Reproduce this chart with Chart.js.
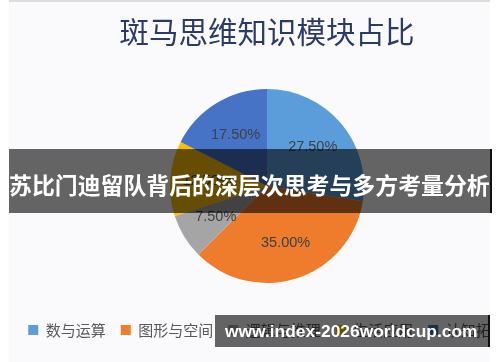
<!DOCTYPE html>
<html lang="zh">
<head>
<meta charset="utf-8">
<title>斑马思维知识模块占比</title>
<script src="https://cdn.jsdelivr.net/npm/chart.js@4"></script>
<style>
    html, body { margin: 0; padding: 0; background: #fff; }
    body { width: 500px; height: 362px; position: relative; overflow: hidden; }
    .painel {
        position: absolute; left: 9px; top: 0; width: 481px; height: 362px;
        background: #fafafd; border-top: 2px solid #dcdcdc; box-sizing: border-box;
        overflow: hidden;
    }
    .painel .grafico { position: absolute; left: 0; top: -2px; width: 516px; height: 362px; }
    .faixa {
        position: absolute; left: 9px; top: 149px; width: 481px; height: 64px;
        background: rgba(0, 0, 0, 0.6); border-right: 2px solid #111;
        color: #fff; font: bold 22.9px 'Noto Sans CJK SC', sans-serif;
        line-height: 70px; white-space: nowrap; overflow: hidden;
    }
    .marca {
        position: absolute; left: 215px; top: 315px; width: 275px; height: 32px;
        background: rgba(0, 0, 0, 0.6); border-right: 2px solid #111; box-sizing: border-box;
        color: #fff; font: bold 17.4px 'Liberation Sans', Arial, sans-serif;
        line-height: 32px; padding-left: 10px; white-space: nowrap;
    }
</style>
</head>
<body>
<div class="painel">
    <div class="grafico"><canvas id="graficoPizza" width="516" height="362"></canvas></div>
</div>
<div class="faixa">苏比门迪留队背后的深层次思考与多方考量分析</div>
<div class="marca">www.index-2026worldcup.com</div>

<script>
// dados do gráfico
const categorias = ['数与运算', '图形与空间', '逻辑与推理', '生活应用', '认知拓展'];
const percentuais = [27.5, 35.0, 7.5, 12.5, 17.5];
const cores = ['#5b9dda', '#ef7b2c', '#a5a5a5', '#ffc000', '#4673c6'];

// rótulos de porcentagem dentro das fatias
const rotulosPlugin = {
    id: 'rotulos',
    afterDatasetsDraw(chart) {
        const ctx = chart.ctx;
        const meta = chart.getDatasetMeta(0);
        ctx.save();
        ctx.font = '14.5px "Liberation Sans", Arial, sans-serif';
        ctx.fillStyle = '#404040';
        ctx.textAlign = 'center';
        ctx.textBaseline = 'middle';
        meta.data.forEach((arc, i) => {
            const p = arc.getProps(['x', 'y', 'startAngle', 'endAngle', 'outerRadius'], true);
            const meio = (p.startAngle + p.endAngle) / 2;
            const r = p.outerRadius * 0.62;
            const texto = percentuais[i].toFixed(2) + '%';
            ctx.fillText(texto, p.x + Math.cos(meio) * r, p.y + Math.sin(meio) * r);
        });
        ctx.restore();
    }
};

const ctxPizza = document.getElementById('graficoPizza').getContext('2d');
new Chart(ctxPizza, {
    type: 'pie',
    data: {
        labels: categorias,
        datasets: [{
            data: percentuais,
            backgroundColor: cores,
            borderWidth: 0,
            radius: 97
        }]
    },
    options: {
        responsive: false,
        animation: false,
        layout: { padding: { bottom: 14.5 } },
        plugins: {
            title: {
                display: true,
                text: '斑马思维知识模块占比',
                color: '#2c3a67',
                font: { family: "'Noto Sans CJK SC', sans-serif", size: 29.5, weight: 'normal' },
                padding: { top: 13.8, bottom: 15.3 }
            },
            legend: {
                position: 'bottom',
                labels: {
                    boxWidth: 10,
                    boxHeight: 10,
                    padding: 15,
                    color: '#595959',
                    font: { family: "'Noto Sans CJK SC', sans-serif", size: 15 }
                }
            },
            tooltip: { enabled: false }
        }
    },
    plugins: [rotulosPlugin]
});
</script>
</body>
</html>
